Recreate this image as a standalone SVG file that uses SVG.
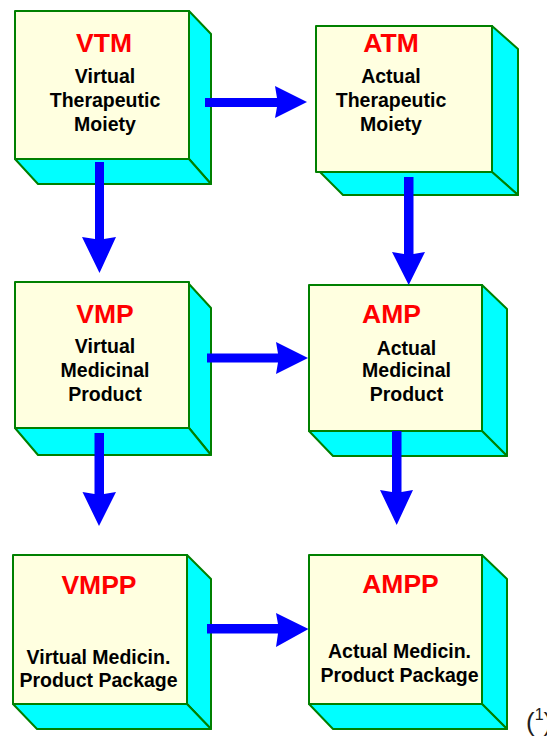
<svg xmlns="http://www.w3.org/2000/svg" width="547" height="740" viewBox="0 0 547 740">
<style>
.front{fill:#FFFFE0;stroke:#008000;stroke-width:2;stroke-linejoin:round}
.side{fill:#00FFFF;stroke:#008000;stroke-width:2;stroke-linejoin:round}
.title{font-family:"Liberation Sans",Arial,sans-serif;font-weight:bold;font-size:26.5px;fill:#FF0000;text-anchor:middle}
.body{font-family:"Liberation Sans",Arial,sans-serif;font-weight:bold;font-size:19.5px;fill:#000000;text-anchor:middle}
.arrow{fill:#0000FF;stroke:none}
</style>
<rect width="547" height="740" fill="#FFFFFF"/>

<g id="VTM">
<polygon class="side" points="189,11 211,34 211,184 189,159"/>
<polygon class="side" points="15,159 189,159 211,184 38,184"/>
<rect class="front" x="15" y="11" width="174" height="148"/>
<text class="title" x="104" y="52">VTM</text>
<text class="body" x="105" y="83">Virtual</text>
<text class="body" x="105" y="107">Therapeutic</text>
<text class="body" x="105" y="131">Moiety</text>
</g>

<g id="ATM">
<polygon class="side" points="492,26 518,49 518,195 492,172"/>
<polygon class="side" points="320,172 492,172 518,195 343,195"/>
<rect class="front" x="316" y="26" width="176" height="146"/>
<text class="title" x="391" y="52">ATM</text>
<text class="body" x="391" y="83">Actual</text>
<text class="body" x="391" y="107">Therapeutic</text>
<text class="body" x="391" y="131">Moiety</text>
</g>

<g id="VMP">
<polygon class="side" points="189,284 211,308 211,455 189,428"/>
<polygon class="side" points="15,428 189,428 211,455 38,455"/>
<rect class="front" x="15" y="282" width="174" height="146"/>
<text class="title" x="105" y="323">VMP</text>
<text class="body" x="105" y="353">Virtual</text>
<text class="body" x="105" y="377">Medicinal</text>
<text class="body" x="105" y="401">Product</text>
</g>

<g id="AMP">
<polygon class="side" points="482,285 507,309 507,456 482,431"/>
<polygon class="side" points="309,431 482,431 507,456 333,456"/>
<rect class="front" x="309" y="285" width="173" height="146"/>
<text class="title" x="391.5" y="323">AMP</text>
<text class="body" x="406.5" y="355">Actual</text>
<text class="body" x="406.5" y="377">Medicinal</text>
<text class="body" x="406.5" y="401">Product</text>
</g>

<g id="VMPP">
<polygon class="side" points="187,555 211,579 211,729 187,704"/>
<polygon class="side" points="13,704 187,704 211,729 37,729"/>
<rect class="front" x="13" y="555" width="174" height="149"/>
<text class="title" x="99" y="594">VMPP</text>
<text class="body" x="98.5" y="664">Virtual Medicin.</text>
<text class="body" x="98.5" y="687">Product Package</text>
</g>

<g id="AMPP">
<polygon class="side" points="482,555 507,579 507,729 482,704"/>
<polygon class="side" points="309,704 482,704 507,729 333,729"/>
<rect class="front" x="309" y="555" width="173" height="149"/>
<text class="title" x="400.5" y="593">AMPP</text>
<text class="body" x="399.5" y="658">Actual Medicin.</text>
<text class="body" x="399.5" y="682">Product Package</text>
</g>

<g id="connectors">
<polygon class="arrow" points="205,98 277,98 275,86 307,102 275,118 277,107 205,107"/>
<polygon class="arrow" points="95,162 104,162 104,239 116,237 99.5,273 82,237 95,239"/>
<polygon class="arrow" points="404,177 413.5,177 413.5,254 425,252 408.7,285 392,252 404,254"/>
<polygon class="arrow" points="94.5,433 104,433 104,494 116,492 99,526 82.5,492 94.5,494"/>
<polygon class="arrow" points="207,353.5 278,353.5 276,342 308,358 276,374 278,362.5 207,362.5"/>
<polygon class="arrow" points="392,431 401.5,431 401.5,492 413,490 396.7,525 380,490 392,492"/>
<polygon class="arrow" points="207,624 278,624 276,613 308.5,629 276,647 278,633.5 207,633.5"/>
</g>

<text x="526" y="731" font-family="Liberation Sans,Arial,sans-serif" font-size="26" fill="#202020">(<tspan font-size="16" dy="-11">1</tspan><tspan dy="11">)</tspan></text>
</svg>
